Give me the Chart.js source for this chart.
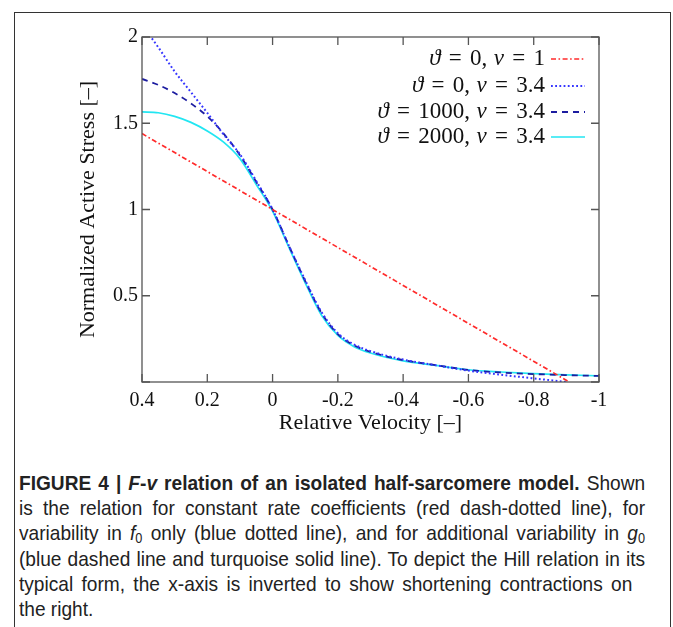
<!DOCTYPE html>
<html>
<head>
<meta charset="utf-8">
<script src="https://cdn.jsdelivr.net/npm/chart.js@4.4.1/dist/chart.umd.min.js"></script>
<style>
  html, body { margin: 0; padding: 0; background: #fff; }
  body { width: 673px; height: 627px; position: relative; overflow: hidden; }
  #frame {
    position: absolute; left: 14px; top: 12px; width: 655px; height: 640px;
    border-left: 1.5px solid #333; border-top: 1.5px solid #333; border-right: 1.5px solid #333;
  }
  #chart { position: absolute; left: 0; top: 0; }
  #caption {
    position: absolute; left: 19px; top: 470px; width: 688px;
    transform: scaleX(0.91); transform-origin: 0 0;
    font-family: "Liberation Sans", Arial, sans-serif; font-size: 21px;
    line-height: 25.2px; color: #222;
  }
  #caption div { white-space: nowrap; text-align: justify; text-align-last: justify; }
  #caption div.last { text-align-last: left; }
  #caption sub { font-size: 14px; vertical-align: -3px; line-height: 0; }
</style>
</head>
<body>
<div id="frame"></div>
<canvas id="chart" width="673" height="440"></canvas>
<div id="caption">
  <div><b>FIGURE 4 | <i>F</i>-<i>v</i> relation of an isolated half-sarcomere model.</b> Shown</div>
  <div>is the relation for constant rate coefficients (red dash-dotted line), for</div>
  <div>variability in <i>f</i><sub>0</sub> only (blue dotted line), and for additional variability in <i>g</i><sub>0</sub></div>
  <div>(blue dashed line and turquoise solid line). To depict the Hill relation in its</div>
  <div style="width:674px">typical form, the x-axis is inverted to show shortening contractions on</div>
  <div class="last">the right.</div>
</div>
<script>
// relative velocity grid for the curved series
const velocity = [0.4, 0.35, 0.3, 0.25, 0.2, 0.15, 0.1, 0.05, 0, -0.05, -0.1, -0.15, -0.2, -0.25, -0.3, -0.4, -0.5, -0.6, -0.7, -0.8, -0.9, -1];

// theta = 0, nu = 1 (straight line)
const velocityNu1 = [0.4, -0.909];
const stressNu1 = [1.44, 0];

// theta = 0, nu = 3.4
const stressTheta0 = [2.07, 1.94, 1.8, 1.68, 1.56, 1.435, 1.32, 1.165, 1.0, 0.79, 0.59, 0.405, 0.283, 0.217, 0.179, 0.13, 0.097, 0.066, 0.042, 0.021, 0.0, null];
// theta = 1000, nu = 3.4
const stressTheta1000 = [1.757, 1.722, 1.675, 1.615, 1.54, 1.44, 1.315, 1.16, 1.0, 0.79, 0.585, 0.4, 0.277, 0.212, 0.175, 0.127, 0.098, 0.07, 0.055, 0.046, 0.04, 0.035];
// theta = 2000, nu = 3.4
const stressTheta2000 = [1.566, 1.561, 1.54, 1.505, 1.455, 1.39, 1.295, 1.145, 0.99, 0.78, 0.575, 0.387, 0.27, 0.205, 0.168, 0.122, 0.096, 0.071, 0.058, 0.048, 0.041, 0.036];

const legendLabels = ["ϑ = 0, ν = 1", "ϑ = 0, ν = 3.4", "ϑ = 1000, ν = 3.4", "ϑ = 2000, ν = 3.4"];

const xTicks = [0.4, 0.2, 0, -0.2, -0.4, -0.6, -0.8, -1];
const yTicks = [0, 0.5, 1, 1.5, 2];

const toPoints = (xs, ys) =>
  xs.map((x, i) => ({ x: x, y: ys[i] })).filter(p => p.y !== null);

const serif = "'Liberation Serif', 'Times New Roman', serif";

const datasets = [
  {
    label: legendLabels[0],
    data: toPoints(velocityNu1, stressNu1),
    borderColor: "#ff2b2b",
    borderWidth: 1.7,
    borderDash: [5, 2.5, 1.6, 2.5]
  },
  {
    label: legendLabels[1],
    data: toPoints(velocity, stressTheta0),
    borderColor: "#3535ff",
    borderWidth: 2,
    borderDash: [1.8, 2.4]
  },
  {
    label: legendLabels[2],
    data: toPoints(velocity, stressTheta1000),
    borderColor: "#1c1ca0",
    borderWidth: 1.8,
    borderDash: [6, 5]
  },
  {
    label: legendLabels[3],
    data: toPoints(velocity, stressTheta2000),
    borderColor: "#22e6f2",
    borderWidth: 1.7,
    borderDash: []
  }
];

datasets.forEach(d => {
  d.showLine = true;
  d.pointRadius = 0;
  d.fill = false;
  d.cubicInterpolationMode = "monotone";
});

// box, inward tick marks on all four sides, and the legend
const framePlugin = {
  id: "frame",
  afterDatasetsDraw(chart) {
    const { ctx, chartArea: a, scales } = chart;
    ctx.save();
    ctx.strokeStyle = "#555";
    ctx.lineWidth = 1.3;
    ctx.setLineDash([]);
    ctx.strokeRect(a.left, a.top, a.right - a.left, a.bottom - a.top);
    const len = 8;
    ctx.beginPath();
    scales.x.ticks.forEach(t => {
      const px = scales.x.getPixelForValue(t.value);
      ctx.moveTo(px, a.bottom); ctx.lineTo(px, a.bottom - len);
      ctx.moveTo(px, a.top); ctx.lineTo(px, a.top + len);
    });
    scales.y.ticks.forEach(t => {
      const py = scales.y.getPixelForValue(t.value);
      ctx.moveTo(a.left, py); ctx.lineTo(a.left + len, py);
      ctx.moveTo(a.right, py); ctx.lineTo(a.right - len, py);
    });
    ctx.stroke();

    // legend: text right aligned, line sample on the right
    const size = 23;
    const textRight = 545;
    const lineL = 551, lineR = 585;
    const rowY = [59, 86, 112, 137];
    ctx.textBaseline = "middle";
    chart.data.datasets.forEach((d, i) => {
      const parts = [];
      for (const ch of d.label) {
        const kind = ch === "ϑ" || ch === "ν" ? "it" : ch === " " ? "sp" : "rm";
        if (parts.length && parts[parts.length - 1].kind === kind && kind !== "sp") parts[parts.length - 1].s += ch;
        else parts.push({ s: ch, kind: kind });
      }
      let w = 0;
      parts.forEach((p, k) => {
        ctx.font = (p.kind === "it" ? "italic " : "") + size + "px " + serif;
        // math-style spacing: wider gaps around "=" than after ","
        if (p.kind === "sp") p.w = parts[k - 1] && parts[k - 1].s.endsWith(",") ? size * 0.28 : size * 0.36;
        else p.w = ctx.measureText(p.s).width;
        w += p.w;
      });
      let x = textRight - w;
      ctx.fillStyle = "#111";
      ctx.textAlign = "left";
      parts.forEach(p => {
        ctx.font = (p.kind === "it" ? "italic " : "") + size + "px " + serif;
        if (p.kind !== "sp") ctx.fillText(p.s, x, rowY[i]);
        x += p.w;
      });
      ctx.strokeStyle = d.borderColor;
      ctx.lineWidth = d.borderWidth;
      ctx.setLineDash(d.borderDash);
      ctx.beginPath();
      ctx.moveTo(lineL, rowY[i]);
      ctx.lineTo(lineR, rowY[i]);
      ctx.stroke();
    });
    ctx.restore();
  }
};

new Chart(document.getElementById("chart"), {
  type: "scatter",
  data: { datasets: datasets },
  plugins: [framePlugin],
  options: {
    responsive: false,
    animation: false,
    devicePixelRatio: 1,
    layout: { padding: { left: 0, top: 37, right: 74, bottom: 0 } },
    plugins: { legend: { display: false }, tooltip: { enabled: false } },
    scales: {
      x: {
        type: "linear",
        reverse: true,
        min: -1,
        max: 0.4,
        afterBuildTicks: s => { s.ticks = xTicks.map(v => ({ value: v })); },
        afterFit: s => { s.height = 58; },
        grid: { display: false, drawTicks: false },
        border: { display: false },
        ticks: {
          color: "#111",
          font: { family: serif, size: 20 },
          padding: 7,
          maxRotation: 0,
          callback: v => String(v)
        },
        title: {
          display: true,
          text: "Relative Velocity [–]",
          color: "#111",
          font: { family: serif, size: 22 },
          padding: { top: 0, bottom: 4 }
        }
      },
      y: {
        type: "linear",
        min: 0,
        max: 2,
        afterBuildTicks: s => { s.ticks = yTicks.map(v => ({ value: v })); },
        afterFit: s => { s.width = 142; },
        grid: { display: false, drawTicks: false },
        border: { display: false },
        ticks: {
          color: "#111",
          font: { family: serif, size: 20 },
          padding: 4,
          callback: v => (v === 0 ? "" : String(v))
        },
        title: {
          display: true,
          text: "Normalized Active Stress [–]",
          color: "#111",
          font: { family: serif, size: 22 },
          padding: { top: 75, bottom: 0 }
        }
      }
    }
  }
});
</script>
</body>
</html>
